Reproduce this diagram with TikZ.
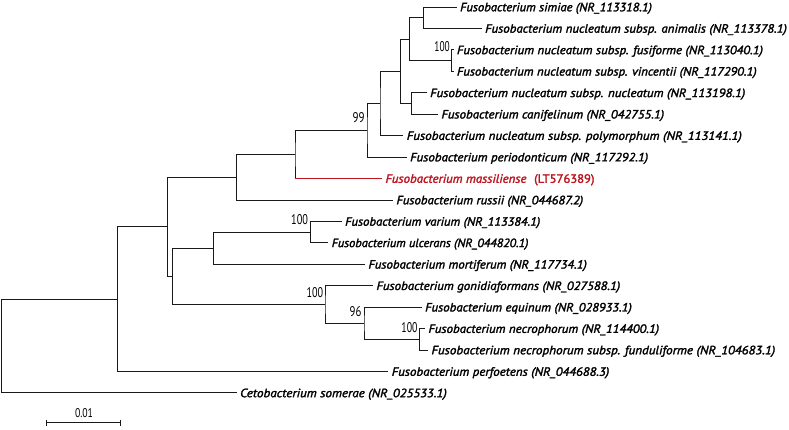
\documentclass[tikz,border=0pt]{standalone}
\usepackage{fontspec}
\usepackage{graphicx}
\setmainfont{PT Sans}
\newfontfamily\labfont{PT Sans}[FakeBold=2]
\newfontfamily\bsfont{PT Sans}
\definecolor{massred}{RGB}{190,20,30}
\definecolor{brline}{RGB}{25,25,25}
\newcommand\lab[2]{\resizebox{#1}{\height}{#2}}
\newcommand\bsnum[2]{\resizebox{#1}{7.5pt}{#2}}
\begin{document}
\begin{tikzpicture}[x=0.75pt,y=-0.75pt,
  br/.style={line width=0.75pt, draw=brline},
  leaf/.style={anchor=base west, inner sep=0pt, xshift=2.4pt, yshift=-3.2pt, font=\fontsize{9}{10}\labfont\itshape},
  bs/.style={anchor=east, inner sep=0pt, font=\fontsize{10}{12}\bsfont},
  sclab/.style={inner sep=0pt, font=\fontsize{10}{12}\bsfont}]
\useasboundingbox[fill=white] (0,0) rectangle (789,429);
% leaf ends
\coordinate (l0) at (456.7,7.0);
\coordinate (l1) at (481.7,28.4);
\coordinate (l2) at (453.5,49.9);
\coordinate (l3) at (453.5,71.3);
\coordinate (l4) at (426.7,92.8);
\coordinate (l5) at (438.0,114.2);
\coordinate (l6) at (403.3,135.6);
\coordinate (l7) at (406.7,157.1);
\coordinate (l8) at (382.0,178.5);
\coordinate (l9) at (393.0,200.0);
\coordinate (l10) at (341.7,221.4);
\coordinate (l11) at (328.3,242.8);
\coordinate (l12) at (365.0,264.3);
\coordinate (l13) at (373.0,285.7);
\coordinate (l14) at (421.7,307.2);
\coordinate (l15) at (425.0,328.6);
\coordinate (l16) at (428.0,350.0);
\coordinate (l17) at (388.3,371.5);
\coordinate (l18) at (236.7,392.9);
% internal nodes
\coordinate (R) at (1.7,346.0);
\coordinate (A) at (117.7,299.1);
\coordinate (B) at (167.7,226.8);
\coordinate (C) at (236.7,177.2);
\coordinate (E) at (295.0,154.4);
\coordinate (F) at (367.0,130.3);
\coordinate (G) at (380.0,103.5);
\coordinate (H) at (400.7,71.3);
\coordinate (I) at (409.5,39.2);
\coordinate (K) at (423.3,17.7);
\coordinate (L) at (451.7,60.6);
\coordinate (J) at (411.7,103.5);
\coordinate (D) at (172.7,276.3);
\coordinate (M) at (213.3,248.2);
\coordinate (O) at (310.7,232.1);
\coordinate (N) at (325.0,304.5);
\coordinate (P) at (364.0,323.2);
\coordinate (Q) at (419.3,339.3);
% branches
\draw[br] (l0) -| (K) |- (l1);
\draw[br] (l2) -| (L) |- (l3);
\draw[br] (K) -| (I) |- (L);
\draw[br] (l4) -| (J) |- (l5);
\draw[br] (I) -| (H) |- (J);
\draw[br] (H) -| (G) |- (l6);
\draw[br] (G) -| (F) |- (l7);
\draw[br] (F) -| (E) -- (E |- l8);
\draw[br, draw=massred] (E |- l8) -- (l8);
\draw[br] (E) -| (C) |- (l9);
\draw[br] (l10) -| (O) |- (l11);
\draw[br] (O) -| (M) |- (l12);
\draw[br] (l15) -| (Q) |- (l16);
\draw[br] (l14) -| (P) |- (Q);
\draw[br] (l13) -| (N) |- (P);
\draw[br] (M) -| (D) |- (N);
\draw[br] (C) -| (B) |- (D);
\draw[br] (B) -| (A) |- (l17);
\draw[br] (A) -| (R) |- (l18);
% leaf labels
\node[leaf] (t0) at (l0) {\lab{143.8pt}{Fusobacterium simiae (NR\_113318.1)}};
\node[leaf] (t1) at (l1) {\lab{226.3pt}{Fusobacterium nucleatum subsp. animalis (NR\_113378.1)}};
\node[leaf] (t2) at (l2) {\lab{229.5pt}{Fusobacterium nucleatum subsp. fusiforme (NR\_113040.1)}};
\node[leaf] (t3) at (l3) {\lab{224.8pt}{Fusobacterium nucleatum subsp. vincentii (NR\_117290.1)}};
\node[leaf] (t4) at (l4) {\lab{236.3pt}{Fusobacterium nucleatum subsp. nucleatum (NR\_113198.1)}};
\node[leaf] (t5) at (l5) {\lab{167.0pt}{Fusobacterium canifelinum (NR\_042755.1)}};
\node[leaf] (t6) at (l6) {\lab{251.3pt}{Fusobacterium nucleatum subsp. polymorphum (NR\_113141.1)}};
\node[leaf] (t7) at (l7) {\lab{178.5pt}{Fusobacterium periodonticum (NR\_117292.1)}};
\node[leaf, text=massred] (t8) at (l8) {\lab{105.75pt}{Fusobacterium massiliense}\hspace{5.8pt}\lab{45.2pt}{\upshape(LT576389)}};
\node[leaf] (t9) at (l9) {\lab{140.0pt}{Fusobacterium russii (NR\_044687.2)}};
\node[leaf] (t10) at (l10) {\lab{146.3pt}{Fusobacterium varium (NR\_113384.1)}};
\node[leaf] (t11) at (l11) {\lab{147.5pt}{Fusobacterium ulcerans (NR\_044820.1)}};
\node[leaf] (t12) at (l12) {\lab{163.8pt}{Fusobacterium mortiferum (NR\_117734.1)}};
\node[leaf] (t13) at (l13) {\lab{182.8pt}{Fusobacterium gonidiaformans (NR\_027588.1)}};
\node[leaf] (t14) at (l14) {\lab{155.0pt}{Fusobacterium equinum (NR\_028933.1)}};
\node[leaf] (t15) at (l15) {\lab{173.0pt}{Fusobacterium necrophorum (NR\_114400.1)}};
\node[leaf] (t16) at (l16) {\lab{257.8pt}{Fusobacterium necrophorum subsp. funduliforme (NR\_104683.1)}};
\node[leaf] (t17) at (l17) {\lab{163.1pt}{Fusobacterium perfoetens (NR\_044688.3)}};
\node[leaf] (t18) at (l18) {\lab{155.0pt}{Cetobacterium somerae (NR\_025533.1)}};
% bootstrap values
\node[bs] (bL) at ([shift={(-1.7,-14.4)}]L) {\bsnum{11.5pt}{100}};
\node[bs] (bF) at ([shift={(-2.0,-12.6)}]F) {\bsnum{9pt}{99}};
\node[bs] (bO) at ([shift={(-2.4,-12.1)}]O) {\bsnum{12.6pt}{100}};
\node[bs] (bN) at ([shift={(-1.7,-11.7)}]N) {\bsnum{12.4pt}{100}};
\node[bs] (bP) at ([shift={(-2.3,-11.2)}]P) {\bsnum{8.8pt}{96}};
\node[bs] (bQ) at ([shift={(-1.6,-11.3)}]Q) {\bsnum{12pt}{100}};
% scale bar
\coordinate (s1) at (46.7,422.7);
\coordinate (s2) at (120.7,422.7);
\draw[br] (s1) -- (s2);
\draw[br] (s1) ++(0,-3) -- ++(0,6);
\draw[br] (s2) ++(0,-3) -- ++(0,6);
\node[sclab] (sl) at (84,413) {\resizebox{13.5pt}{6.75pt}{0.01}};
\end{tikzpicture}
\end{document}
